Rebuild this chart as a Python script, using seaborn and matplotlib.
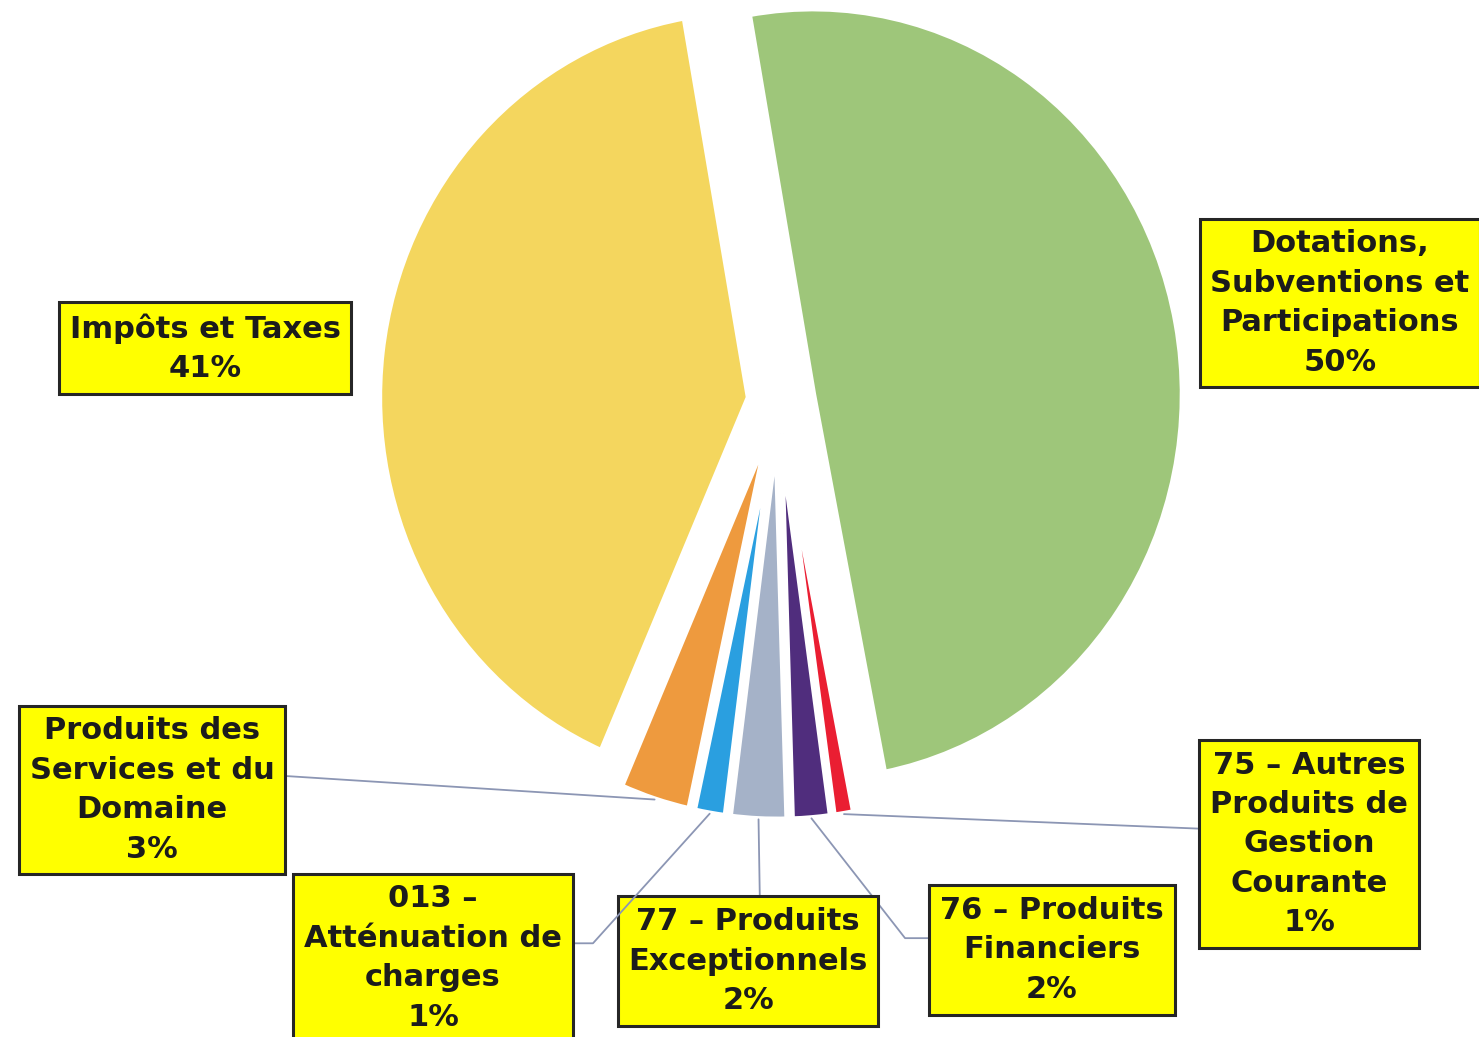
import matplotlib
matplotlib.use("Agg")
import matplotlib.pyplot as plt
import seaborn as sns
import numpy as np

# ---------------- data ----------------
categories = [
    "Dotations,\nSubventions et\nParticipations",
    "75 – Autres\nProduits de\nGestion\nCourante",
    "76 – Produits\nFinanciers",
    "77 – Produits\nExceptionnels",
    "013 –\nAtténuation de\ncharges",
    "Produits des\nServices et du\nDomaine",
    "Impôts et Taxes",
]
shares = [49.7, 0.9, 1.7, 2.5, 1.4, 3.1, 40.7]
pct_labels = [f"{round(s):d}%" for s in shares]
slice_colors = ["#9EC67A", "#EA1E32", "#502D7D", "#A5B2C8", "#2A9FE0", "#EE9A3E", "#F4D65E"]
explode = [0.096, 0.085, 0.085, 0.085, 0.085, 0.085, 0.079]

# ---------------- layout ----------------
W, H = 1479, 1037
label_centers_px = [(1340, 303), (1309, 844), (1052, 950), (748, 961),
                    (433, 958), (152, 790), (205, 348)]
leaders = [
    None,
    dict(relpos=(0.0, 0.58), connectionstyle="arc3,rad=0"),
    dict(relpos=(0.0, 0.61), connectionstyle="angle,angleA=0,angleB=128,rad=0"),
    dict(relpos=(0.55, 1.0), connectionstyle="arc3,rad=0"),
    dict(relpos=(1.0, 0.60), connectionstyle="angle,angleA=0,angleB=48,rad=0"),
    dict(relpos=(1.0, 0.60), connectionstyle="arc3,rad=0"),
    None,
]

sns.set_theme(style="white")
plt.rcParams["font.family"] = ["DejaVu Sans"]

fig = plt.figure(figsize=(W / 100, H / 100), dpi=100)
ax = fig.add_axes([0, 0, 1, 1])
palette = sns.color_palette(slice_colors)
wedges, _ = ax.pie(shares, colors=palette, explode=explode, startangle=100,
                   counterclock=False,
                   wedgeprops=dict(edgecolor="white", linewidth=4.6))

# pie centre / radius in pixels (scan is slightly stretched vertically)
cx, cy, rx, ry = 778, 401, 370, 386
ax.set_xlim(-cx / rx, (W - cx) / rx)
ax.set_ylim(-(H - cy) / ry, cy / ry)
ax.set_aspect("auto")
ax.axis("off")


def outer_mid(w):
    t = np.deg2rad((w.theta1 + w.theta2) / 2)
    return (w.center[0] + w.r * np.cos(t), w.center[1] + w.r * np.sin(t))


box = dict(boxstyle="square,pad=0.35", fc="#FFFF00", ec="#262626", lw=2.2)
text_kw = dict(fontsize=22, fontweight="bold", color="#1c1c1c", ha="center",
               va="center", linespacing=1.45, zorder=5)

for w, cat, pct, (px, py), ld in zip(wedges, categories, pct_labels,
                                     label_centers_px, leaders):
    label = f"{cat}\n{pct}"
    pos = (px / W, 1 - py / H)
    if ld is None:
        ax.text(pos[0], pos[1], label, transform=ax.transAxes, bbox=box, **text_kw)
    else:
        ax.annotate(label, xy=outer_mid(w), xycoords="data",
                    xytext=pos, textcoords="axes fraction", bbox=box,
                    arrowprops=dict(arrowstyle="-", color="#8C96B4", lw=1.3,
                                    shrinkA=0, shrinkB=0, **ld),
                    **text_kw)

fig.savefig("out.png", dpi=100, facecolor="white")
